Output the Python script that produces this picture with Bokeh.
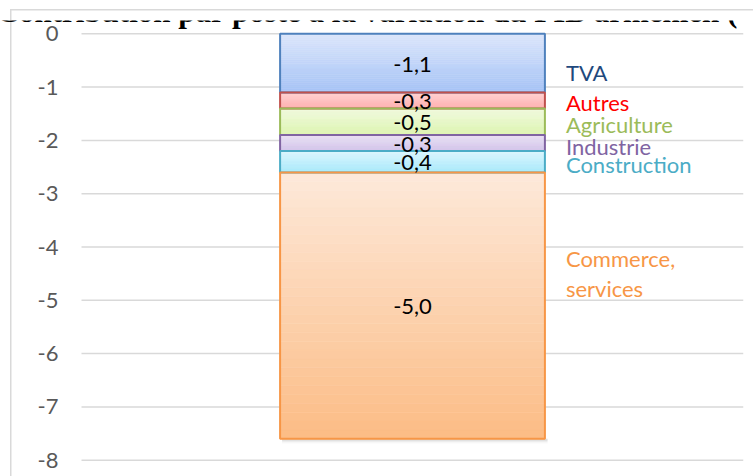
from bokeh.plotting import figure
from bokeh.models import Range1d, ColumnDataSource, Label
from bokeh.core.properties import value
from bokeh.embed import file_html
from bokeh.resources import INLINE

# ---- data ----
categories = ["TVA", "Autres", "Agriculture", "Industrie", "Construction", "Commerce,\nservices"]
values = [-1.1, -0.3, -0.5, -0.3, -0.4, -5.0]
y_ticks = [0, -1, -2, -3, -4, -5, -6, -7, -8]
y_tick_labels = [str(t) for t in y_ticks]
title_text = "Contribution par poste à la variation du PIB arménien ("

# ---- styles ----
top_colors = ["#DCE6FB", "#FFD3D3", "#F1FADF", "#EAE2F4", "#DDF6FD", "#FDE9DA"]
bot_colors = ["#A6C3F6", "#FFAEAE", "#DCF4AE", "#D2C3EA", "#A6E9FB", "#FCBC85"]
edge_colors = ["#4F81BD", "#C0504D", "#9BBB59", "#8064A2", "#4BACC6", "#F79646"]
label_colors = ["#1F497D", "#FF0000", "#9BBB59", "#8064A2", "#4BACC6", "#F79646"]
label_nudge_px = [9, 2, 3, 3.5, 3, -32]
FONT = "Lato"
FS = "22px"

def hex2rgb(h):
    h = h.lstrip("#")
    return tuple(int(h[i:i + 2], 16) for i in (0, 2, 4))

def mix(c1, c2, t):
    a, b = hex2rgb(c1), hex2rgb(c2)
    return "#%02x%02x%02x" % tuple(round(a[i] + (b[i] - a[i]) * t) for i in range(3))

tops, bottoms = [], []
acc = 0.0
for v in values:
    tops.append(acc)
    acc += v
    bottoms.append(acc)
centers = [(t + b) / 2 for t, b in zip(tops, bottoms)]
value_texts = [f"{v:.1f}".replace(".", ",") for v in values]

W, H = 753, 476
PLOT_LEFT, PLOT_RIGHT = 81, 743          # pixel extent of the plotting area (gridlines)
span = PLOT_RIGHT - PLOT_LEFT
x_start = -PLOT_LEFT / span             # frame starts at canvas x=0, plotting area at x=0 data
p = figure(width=W, height=H, output_backend="svg", toolbar_location=None,
           x_range=Range1d(x_start, 1), y_range=Range1d(-8.306, 0.25),
           min_border_left=0, min_border_right=W - PLOT_RIGHT, min_border_top=20, min_border_bottom=0)
p.outline_line_color = None
p.background_fill_color = None
p.border_fill_color = None
p.styles = {
    "background-color": "white",
    "background-image": "linear-gradient(#D9D9D9, #D9D9D9), linear-gradient(#D9D9D9, #D9D9D9)",
    "background-position": "10px 9px, 10px 9px",
    "background-size": "1.5px 100%, 100% 1.5px",
    "background-repeat": "no-repeat",
}
p.xaxis.visible = False
p.yaxis.visible = False
p.xgrid.visible = False
p.ygrid.visible = False

# gridlines and tick labels on the value scale
p.segment(x0=0, x1=1, y0=y_ticks, y1=y_ticks, line_color="#D9D9D9", line_width=1.5)
p.text(x=-23 / span, y=y_ticks, text=y_tick_labels, text_align="right", text_baseline="middle",
       text_font=value(FONT), text_font_size=FS, text_color="#595959")

# shadow under stack
px = (0.25 + 8.306) / (H - 20)
for k, a in enumerate([0.12, 0.08, 0.05, 0.03]):
    p.quad(left=0.3 + 0.003, right=0.7 + 0.004, top=bottoms[-1], bottom=bottoms[-1] - (k + 2) * px,
           fill_color="#808080", fill_alpha=a, line_color=None)

# gradient strips
N = 30
sl, sr, st, sb, sc = [], [], [], [], []
for i in range(len(values)):
    for k in range(N):
        t0 = tops[i] + (bottoms[i] - tops[i]) * k / N
        t1 = tops[i] + (bottoms[i] - tops[i]) * (k + 1) / N
        sl.append(0.3); sr.append(0.7); st.append(t0); sb.append(t1)
        sc.append(mix(top_colors[i], bot_colors[i], (k + 0.5) / N))
p.quad(left="l", right="r", top="t", bottom="b", fill_color="c", line_color="c", line_width=0.5,
       source=ColumnDataSource(dict(l=sl, r=sr, t=st, b=sb, c=sc)))

# outlines
src = ColumnDataSource(dict(top=tops, bottom=bottoms, edge=edge_colors, cen=centers,
                            vt=value_texts, cat=categories, lc=label_colors, nud=label_nudge_px))
p.quad(left=0.3, right=0.7, top="top", bottom="bottom", fill_alpha=0, line_color="edge",
       line_width=2, source=src)

p.text(x=0.5, y="cen", text="vt", text_align="center", text_baseline="middle", y_offset=1,
       text_font=value(FONT), text_font_size=FS, text_color="black", source=src)

p.text(x=0.7, y="cen", text="cat", x_offset=21, y_offset="nud", text_align="left",
       text_baseline="middle", text_font=value(FONT), text_font_size=FS,
       text_color="lc", text_line_height=1.12, source=src)

p.add_layout(Label(x=-4, y=11, x_units="canvas", y_units="canvas", text=title_text,
                   text_font="Liberation Serif", text_font_style="bold",
                   text_font_size="31px", text_baseline="alphabetic", text_color="black"))

open("out.html", "w").write(file_html(p, INLINE))
